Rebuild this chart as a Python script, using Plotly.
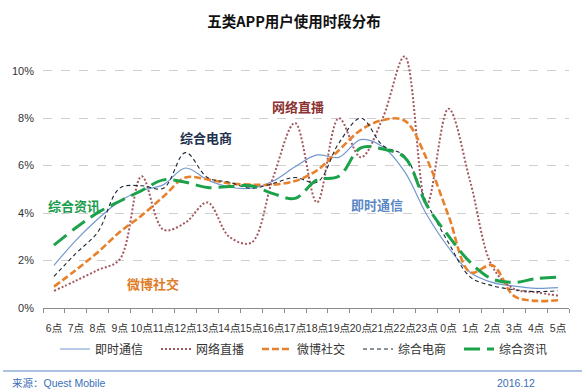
import plotly.graph_objects as go

hours = ["6点", "7点", "8点", "9点", "10点", "11点", "12点", "13点", "14点", "15点",
         "16点", "17点", "18点", "19点", "20点", "21点", "22点", "23点", "0点", "1点",
         "2点", "3点", "4点", "5点"]

im_chat = [1.8, 2.85, 3.75, 4.5, 4.95, 5.2, 5.9, 5.4, 5.1, 5.05, 5.35, 5.95,
           6.45, 6.35, 7.1, 6.8, 5.75, 3.95, 2.55, 1.5, 1.08, 0.92, 0.83, 0.86]
live_stream = [0.72, 1.15, 1.6, 2.05, 5.55, 3.3, 3.6, 4.45, 3.0, 2.75, 5.5, 7.8,
               4.45, 8.0, 6.35, 8.0, 10.6, 4.35, 8.4, 5.3, 1.75, 0.8, 0.66, 0.52]
weibo_social = [0.9, 1.6, 2.35, 3.2, 3.9, 4.7, 5.5, 5.42, 5.25, 5.2, 5.2, 5.35,
                5.8, 6.65, 7.5, 7.92, 7.9, 6.3, 3.9, 1.5, 1.8, 0.5, 0.3, 0.33]
ecommerce = [1.33, 2.3, 3.2, 5.05, 5.15, 5.05, 6.55, 5.5, 5.3, 5.05, 5.25, 5.5,
             5.3, 6.95, 8.0, 6.85, 6.4, 4.45, 2.75, 1.3, 0.94, 0.77, 0.69, 0.73]
news = [2.65, 3.38, 4.02, 4.5, 4.95, 5.4, 5.3, 5.08, 5.12, 5.15, 4.82, 4.62,
        5.4, 5.55, 6.75, 6.7, 6.35, 4.35, 3.04, 1.92, 1.22, 1.08, 1.24, 1.3]

y_ticks = [0, 2, 4, 6, 8, 10]

W, H = 588, 392
L, R, T, B = 43, 19, 47, 84
PW, PH = W - L - R, H - T - B


def px_x(x):
    return (x - L) / PW


def px_y(y):
    return (H - B - y) / PH


CJK = "Liberation Sans, Noto Sans CJK SC, sans-serif"

series = [
    ("即时通信", im_chat, dict(color="#7398d0", width=1.2, dash="solid")),
    ("网络直播", live_stream, dict(color="#a3585f", width=2, dash="2px,2px")),
    ("微博社交", weibo_social, dict(color="#e8812b", width=2.6, dash="7px,3px")),
    ("综合电商", ecommerce, dict(color="#1b2838", width=1.1, dash="4px,3px")),
    ("综合资讯", news, dict(color="#1ba24a", width=3, dash="16px,7px")),
]

fig = go.Figure()
for name, vals, line in series:
    fig.add_trace(go.Scatter(
        x=hours, y=vals, name=name, mode="lines",
        line=dict(shape="spline", smoothing=1.0, **line),
        hoverinfo="skip",
    ))

labels = [
    ("网络直播", 298, 106, "#8b3232"),
    ("综合电商", 206, 137, "#1f3350"),
    ("综合资讯", 74, 205, "#1a9d4c"),
    ("即时通信", 377, 204, "#5b87c5"),
    ("微博社交", 153, 283, "#e07b25"),
]
annotations = []
for text, x, y, c in labels:
    annotations.append(dict(
        text="<b>%s</b>" % text, xref="paper", yref="paper",
        x=px_x(x), y=px_y(y), xanchor="center", yanchor="middle",
        showarrow=False, font=dict(family="Noto Sans CJK SC", size=13, color=c),
    ))

annotations.append(dict(
    text="来源：Quest Mobile", xref="paper", yref="paper",
    x=px_x(10), y=px_y(383), xanchor="left", yanchor="middle", showarrow=False,
    font=dict(family=CJK, size=10.5, color="#3d6fb6"),
))
annotations.append(dict(
    text="2016.12", xref="paper", yref="paper",
    x=px_x(537), y=px_y(383), xanchor="right", yanchor="middle", showarrow=False,
    font=dict(family=CJK, size=10.5, color="#3d6fb6"),
))

fig.update_layout(
    width=W, height=H,
    margin=dict(l=L, r=R, t=T, b=B),
    paper_bgcolor="white", plot_bgcolor="white",
    title=dict(text="<b>五类APP用户使用时段分布</b>", x=0.5, xanchor="center",
               y=1 - 22 / H, yanchor="middle", xref="container", yref="container",
               font=dict(family="Noto Sans CJK SC", size=14.5, color="#111111")),
    showlegend=True,
    legend=dict(orientation="h", x=px_x(55), y=px_y(349), xanchor="left",
                yanchor="middle", font=dict(family="Noto Sans CJK SC", size=12, color="#333333"),
                entrywidth=56, entrywidthmode="pixels", bgcolor="rgba(0,0,0,0)",
                itemclick=False),
    annotations=annotations,
    shapes=[dict(type="line", xref="paper", yref="paper",
                 x0=px_x(3), x1=px_x(582), y0=px_y(371), y1=px_y(371),
                 line=dict(color="#5a84c0", width=1))],
)

fig.update_xaxes(
    type="category", range=[-0.5, 23.5], showgrid=False, zeroline=False,
    showline=True, linecolor="#8c8c8c", linewidth=1,
    ticks="outside", tickson="boundaries", ticklen=4, tickcolor="#8c8c8c",
    tickangle=0, ticklabelstandoff=10,
    tickfont=dict(family=CJK, size=10.5, color="#333333"),
)
fig.update_yaxes(
    range=[0, 11], tickvals=y_ticks, ticktext=["%d%%" % v for v in y_ticks],
    showgrid=True, gridcolor="#cfcfcf", griddash="dash", gridwidth=1,
    zeroline=False, showline=False, ticks="", ticklabelstandoff=8,
    tickfont=dict(family="Liberation Sans", size=11, color="#333333"),
)

fig.write_html("out.html", config={"displayModeBar": False},
               post_script="document.body.style.margin='0';")
